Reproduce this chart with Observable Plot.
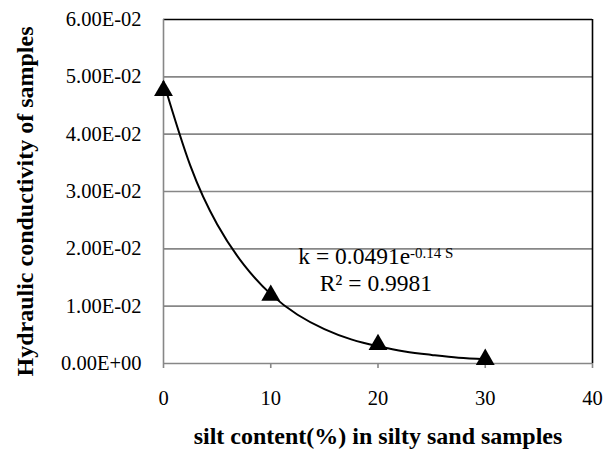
<!DOCTYPE html>
<html>
<head>
<meta charset="utf-8">
<script src="https://cdn.jsdelivr.net/npm/d3@7"></script>
<script src="https://cdn.jsdelivr.net/npm/@observablehq/plot@0.6"></script>
<style>
  html, body { margin: 0; padding: 0; background: #fff; }
</style>
</head>
<body>
<div id="chart"></div>
<script>
// Measured samples
const silt = [0, 10, 20, 30];
const conductivity = [0.0476, 0.0119, 0.0033, 0.0007];

// Trendline
const trendS = [0, 2.5, 5, 7.5, 10, 12.5, 15, 17.5, 20, 22.5, 25, 27.5, 30];
const trendK = [0.0491, 0.0345, 0.0243, 0.0172, 0.0121, 0.0085, 0.0060, 0.0042, 0.0030, 0.0021, 0.0015, 0.0010, 0.00074];

// Axis ticks
const xTicks = [0, 10, 20, 30, 40];
const yTicks = [0, 0.01, 0.02, 0.03, 0.04, 0.05, 0.06];

// Texts
const xTitle = "silt content(%) in silty sand samples";
const yTitle = "Hydraulic conductivity of samples";
const eqBase = "k = 0.0491e";
const eqSup = "-0.14 S";
const r2Text = "R² = 0.9981";
const eqPos = {x: 19.8, y: 0.0186};
const r2Pos = {x: 19.8, y: 0.0139};

const points = silt.map((s, i) => ({s, k: conductivity[i]}));
const trend = trendS.map((s, i) => ({s, k: trendK[i]}));

function fmtE(v) {
  if (v === 0) return "0.00E+00";
  const e = Math.floor(Math.log10(Math.abs(v)) + 1e-9);
  const m = v / Math.pow(10, e);
  return m.toFixed(2) + "E" + (e < 0 ? "-" : "+") + String(Math.abs(e)).padStart(2, "0");
}

const gray = "#878787";
const serif = '"Liberation Serif", "Times New Roman", serif';

const chart = Plot.plot({
  width: 615,
  height: 458,
  marginLeft: 163,
  marginRight: 23,
  marginTop: 19,
  marginBottom: 95,
  style: {fontFamily: serif, background: "#fff", color: "#000"},
  x: {domain: [0, 40]},
  y: {domain: [0, 0.06]},
  marks: [
    Plot.ruleY(yTicks.filter(d => d > 0 && d < 0.06), {stroke: gray, strokeWidth: 1.6}),
    Plot.ruleY([0.06], {stroke: "#000", strokeWidth: 1.6}),
    Plot.ruleX([40], {stroke: "#000", strokeWidth: 1.6}),
    Plot.ruleX([0], {stroke: gray, strokeWidth: 1.6}),
    Plot.ruleY([0], {stroke: gray, strokeWidth: 1.6}),
    Plot.axisX({ticks: xTicks, tickSize: 5, tickPadding: 22, stroke: gray, strokeWidth: 1.6, fontSize: 20.5, fontFamily: serif, label: null, tickFormat: d => String(d), fill: "#000"}),
    Plot.axisY({ticks: yTicks, tickSize: 0, tickPadding: 22, fontSize: 20.5, fontFamily: serif, label: null, tickFormat: fmtE, fill: "#000"}),
    Plot.line(trend, {x: "s", y: "k", stroke: "#000", strokeWidth: 2, curve: "natural"}),
    Plot.dot(points, {x: "s", y: "k", symbol: "triangle", r: 7, fill: "#000", stroke: "none"}),
    Plot.text([eqBase + eqSup], {x: eqPos.x, y: eqPos.y, text: d => d, fontSize: 23.5, fontFamily: serif, textAnchor: "middle", fill: "#000"}),
    Plot.text([r2Text], {x: r2Pos.x, y: r2Pos.y, text: d => d, fontSize: 23.5, fontFamily: serif, textAnchor: "middle", fill: "#000"}),
    Plot.text([xTitle], {frameAnchor: "bottom", dy: 80, text: d => d, fontSize: 24, fontFamily: serif, fontWeight: "bold", fill: "#000", textAnchor: "middle"}),
    Plot.text([yTitle], {frameAnchor: "left", dx: -138, dy: 10, rotate: -90, text: d => d, fontSize: 24, fontFamily: serif, fontWeight: "bold", fill: "#000", textAnchor: "middle"})
  ]
});

// Superscript exponent in the trendline equation
d3.select(chart).selectAll("text").each(function() {
  if (this.textContent === eqBase + eqSup) {
    const t = d3.select(this);
    t.text(null);
    t.append("tspan").text(eqBase);
    t.append("tspan").attr("dy", "-0.4em").attr("font-size", "15").text(eqSup);
  }
});

document.getElementById("chart").appendChild(chart);
</script>
</body>
</html>
